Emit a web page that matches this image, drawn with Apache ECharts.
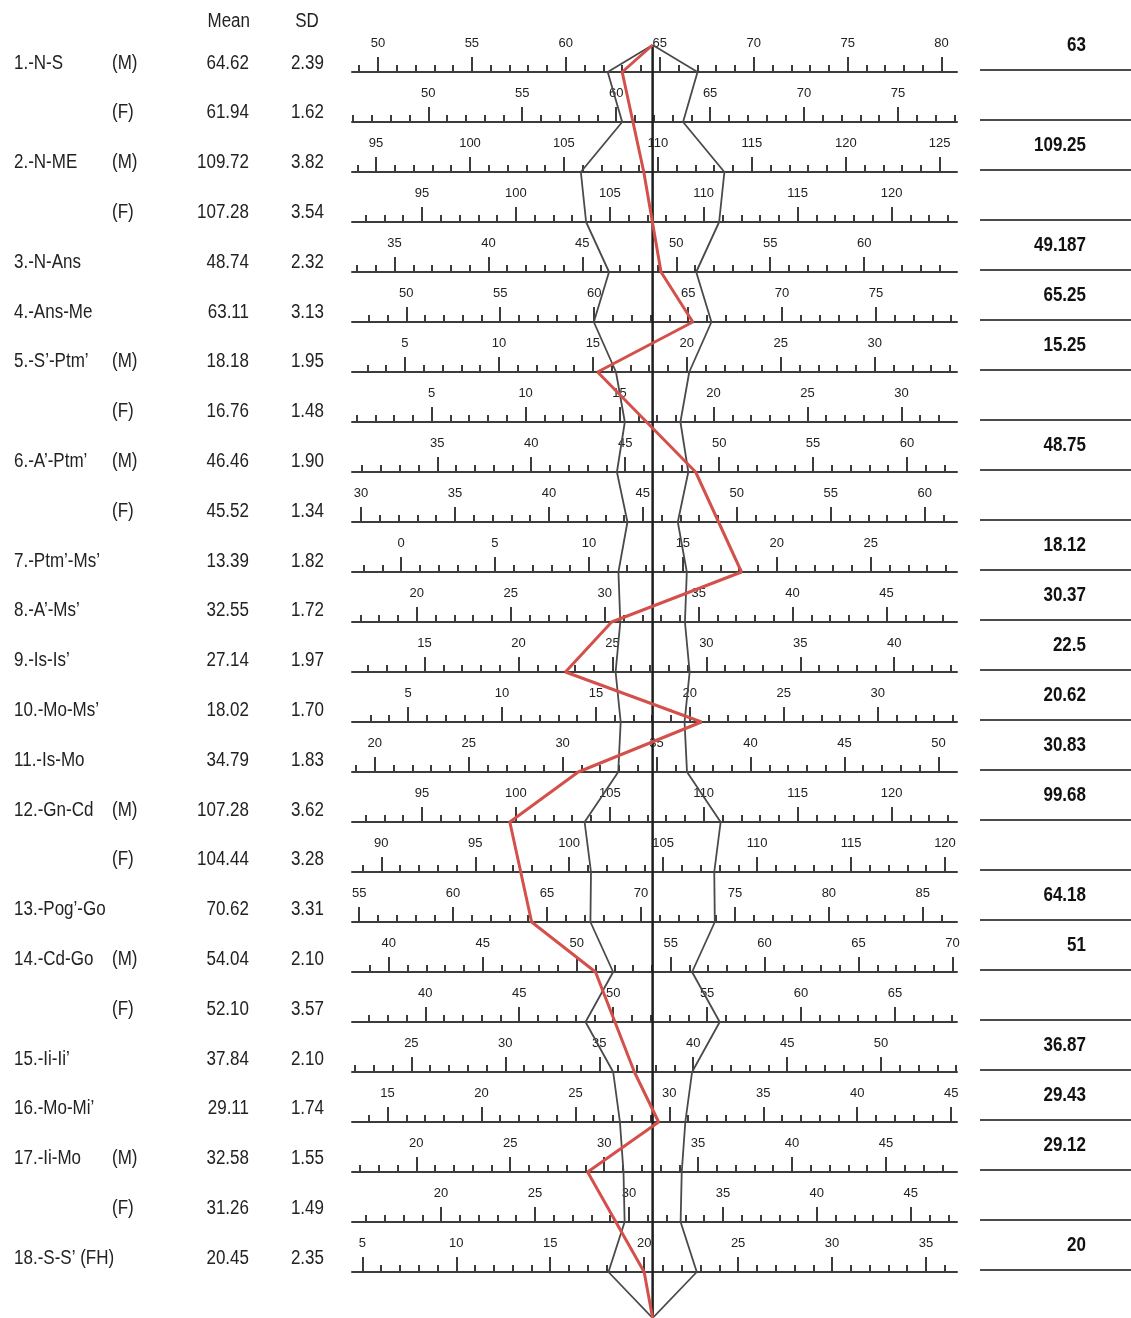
<!DOCTYPE html>
<html>
<head>
<meta charset="utf-8">
<script src="https://cdn.jsdelivr.net/npm/echarts@6/dist/echarts.min.js"></script>
<style>
html,body{margin:0;padding:0;background:#fff;}
#main{width:1131px;height:1318px;}
</style>
</head>
<body>
<div id="main"></div>
<script>
// rows of the profilogram, top to bottom
var names = ['1.-N-S', '', '2.-N-ME', '', '3.-N-Ans', '4.-Ans-Me', '5.-S\u2019-Ptm\u2019', '', '6.-A\u2019-Ptm\u2019', '',
    '7.-Ptm\u2019-Ms\u2019', '8.-A\u2019-Ms\u2019', '9.-Is-Is\u2019', '10.-Mo-Ms\u2019', '11.-Is-Mo', '12.-Gn-Cd', '',
    '13.-Pog\u2019-Go', '14.-Cd-Go', '', '15.-Ii-Ii\u2019', '16.-Mo-Mi\u2019', '17.-Ii-Mo', '', '18.-S-S\u2019 (FH)'];
var sexes = ['(M)', '(F)', '(M)', '(F)', '', '', '(M)', '(F)', '(M)', '(F)', '', '', '', '', '', '(M)', '(F)',
    '', '(M)', '(F)', '', '', '(M)', '(F)', ''];
var means = [64.62, 61.94, 109.72, 107.28, 48.74, 63.11, 18.18, 16.76, 46.46, 45.52, 13.39, 32.55, 27.14, 18.02,
    34.79, 107.28, 104.44, 70.62, 54.04, 52.10, 37.84, 29.11, 32.58, 31.26, 20.45];
var sds = [2.39, 1.62, 3.82, 3.54, 2.32, 3.13, 1.95, 1.48, 1.90, 1.34, 1.82, 1.72, 1.97, 1.70, 1.83, 3.62, 3.28,
    3.31, 2.10, 3.57, 2.10, 1.74, 1.55, 1.49, 2.35];
var patient = [63, null, 109.25, null, 49.187, 65.25, 15.25, null, 48.75, null, 18.12, 30.37, 22.5, 20.62, 30.83,
    99.68, null, 64.18, 51, null, 36.87, 29.43, 29.12, null, 20];
var headers = ['Mean', 'SD'];

var FONT = '"Liberation Sans", Arial, sans-serif';
var SQUEEZE = 0.85;   // the table font is a condensed face
var rowY = function (i) { return 72 + 50 * i; };
var LEFT_U = 16, RIGHT_U = 16.2;     // ruler extent around the mean, in mm
var apexTop = -0.54, apexBottom = 24.92;

var grids = [{left: 352, width: 605, top: 40, height: 1278, outerBoundsMode: 'none'}];
var xAxes = [{gridIndex: 0, type: 'value', min: -LEFT_U, max: RIGHT_U, show: false}];
var yAxes = [{gridIndex: 0, type: 'value', min: -0.64, max: 24.92, inverse: true, show: false}];

for (var i = 0; i < means.length; i++) {
    var lo = means[i] - LEFT_U, hi = means[i] + RIGHT_U;
    var majors = [], minors = [];
    for (var v = Math.ceil(lo); v <= Math.floor(hi); v++) {
        if (v % 5 === 0) majors.push(v); else minors.push(v);
    }
    grids.push({left: 352, width: 605, top: rowY(i) - 40, height: 40, outerBoundsMode: 'none'});
    xAxes.push({
        gridIndex: i + 1, type: 'value', min: lo, max: hi, position: 'bottom',
        axisLine: {show: true, lineStyle: {color: '#3c3c3c', width: 2}},
        axisTick: {show: true, inside: true, length: 15, customValues: majors, lineStyle: {color: '#3c3c3c', width: 2}},
        axisLabel: {show: true, inside: true, margin: 22, customValues: majors, color: '#222',
            fontSize: 13, fontFamily: FONT},
        splitLine: {show: false}
    });
    xAxes.push({
        gridIndex: i + 1, type: 'value', min: lo, max: hi, position: 'bottom',
        axisLine: {show: false},
        axisTick: {show: true, inside: true, length: 7, customValues: minors, lineStyle: {color: '#3c3c3c', width: 2}},
        axisLabel: {show: false},
        splitLine: {show: false}
    });
    yAxes.push({gridIndex: i + 1, type: 'value', min: 0, max: 1, show: false});
}

// envelope (mean +/- SD) and patient polyline, in mm from the mean
var leftEnv = [[0, apexTop]], rightEnv = [[0, apexTop]], redLine = [[0, apexTop]];
for (var k = 0; k < means.length; k++) {
    leftEnv.push([-sds[k], k]);
    rightEnv.push([sds[k], k]);
    if (patient[k] !== null) redLine.push([patient[k] - means[k], k]);
}
leftEnv.push([0, apexBottom]);
rightEnv.push([0, apexBottom]);
redLine.push([0, apexBottom]);

function txt(x, y, s, align, font, fill) {
    return {type: 'text', x: x, y: y, scaleX: SQUEEZE,
        style: {text: s, fill: fill || '#222', font: font, align: align, verticalAlign: 'middle'}};
}

var graphics = [];
graphics.push(txt(250, 21, headers[0], 'right', '20px ' + FONT));
graphics.push(txt(307, 21, headers[1], 'center', '20px ' + FONT));
for (var r = 0; r < means.length; r++) {
    var ty = 63 + 49.8 * r;
    graphics.push(txt(14, ty, names[r], 'left', '20px ' + FONT));
    graphics.push(txt(112, ty, sexes[r], 'left', '20px ' + FONT));
    graphics.push(txt(249, ty, means[r].toFixed(2), 'right', '20px ' + FONT));
    graphics.push(txt(324, ty, sds[r].toFixed(2), 'right', '20px ' + FONT));
    graphics.push({type: 'line', shape: {x1: 980, y1: rowY(r) - 2, x2: 1131, y2: rowY(r) - 2}, style: {stroke: '#111', lineWidth: 1.5}});
    if (patient[r] !== null) {
        graphics.push(txt(1086, rowY(r) - 27, String(patient[r]), 'right', 'bold 20px ' + FONT, '#111'));
    }
}

var myChart = echarts.init(document.getElementById('main'));
var option = {
    backgroundColor: '#FFFFFF',
    animation: false,
    grid: grids,
    xAxis: xAxes,
    yAxis: yAxes,
    graphic: graphics,
    series: [
        {
            type: 'line', xAxisIndex: 0, yAxisIndex: 0, symbol: 'none', z: 3,
            lineStyle: {color: '#1e1e1e', width: 2.5},
            data: [[0, apexTop], [0, apexBottom]]
        },
        {
            type: 'line', xAxisIndex: 0, yAxisIndex: 0, symbol: 'none', z: 4,
            lineStyle: {color: '#4a4a4a', width: 1.8},
            data: leftEnv
        },
        {
            type: 'line', xAxisIndex: 0, yAxisIndex: 0, symbol: 'none', z: 4,
            lineStyle: {color: '#4a4a4a', width: 1.8},
            data: rightEnv
        },
        {
            type: 'line', xAxisIndex: 0, yAxisIndex: 0, symbol: 'none', z: 5,
            lineStyle: {color: '#d4504a', width: 3},
            data: redLine
        }
    ]
};
myChart.setOption(option);
</script>
</body>
</html>
